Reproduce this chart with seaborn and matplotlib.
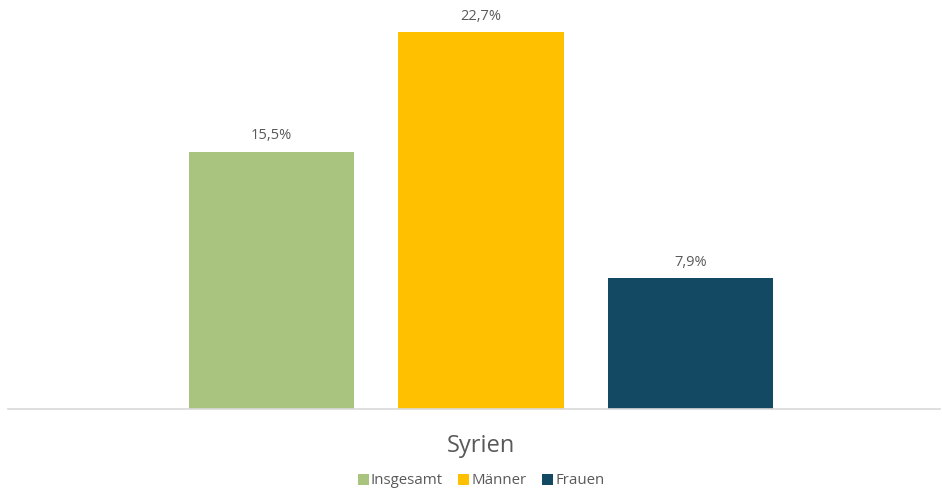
import matplotlib
matplotlib.use("Agg")
import matplotlib.pyplot as plt
import seaborn as sns
import pandas as pd

country = ["Syrien"]
groups = ["Insgesamt", "Männer", "Frauen"]
values = [15.5, 22.7, 7.9]
colors = ["#a9c47f", "#ffc000", "#134963"]

df = pd.DataFrame({
    "Land": country * len(groups),
    "Gruppe": groups,
    "Wert": values,
})

sns.set_theme(style="white")
plt.rcParams["font.family"] = ["Open Sans", "DejaVu Sans"]

fig = plt.figure(figsize=(9.42, 4.92), dpi=100)
ax = fig.add_axes([8 / 942, 83 / 492, 932 / 942, 409 / 492])

sns.barplot(data=df, x="Land", y="Wert", hue="Gruppe", palette=colors,
            hue_order=groups, gap=0.21, ax=ax, legend=True, saturation=1,
            linewidth=0, edgecolor="none")

for cont in ax.containers:
    ax.bar_label(cont, labels=[f"{v:.1f}%".replace(".", ",") for v in cont.datavalues],
                 padding=6, fontsize=10.5, color="#595959")

ax.set_ylim(0, 24.64)
ax.set_xlim(-0.602, 0.584)
ax.set_xlabel("")
ax.set_ylabel("")
ax.set_yticks([])
ax.tick_params(axis="x", length=0, labelsize=17, labelcolor="#595959", pad=18)

for side in ["top", "left", "right"]:
    ax.spines[side].set_visible(False)
ax.spines["bottom"].set_color("#d9d9d9")
ax.spines["bottom"].set_linewidth(1.2)
ax.spines["bottom"].set_zorder(5)

leg = ax.legend(loc="center", bbox_to_anchor=(473 / 932, -72 / 409), ncol=3,
                frameon=False, fontsize=10.8, handlelength=0.75, handleheight=0.75,
                handletextpad=0.15, columnspacing=1.0)
for t in leg.get_texts():
    t.set_color("#595959")

fig.savefig("out.png", dpi=100)
